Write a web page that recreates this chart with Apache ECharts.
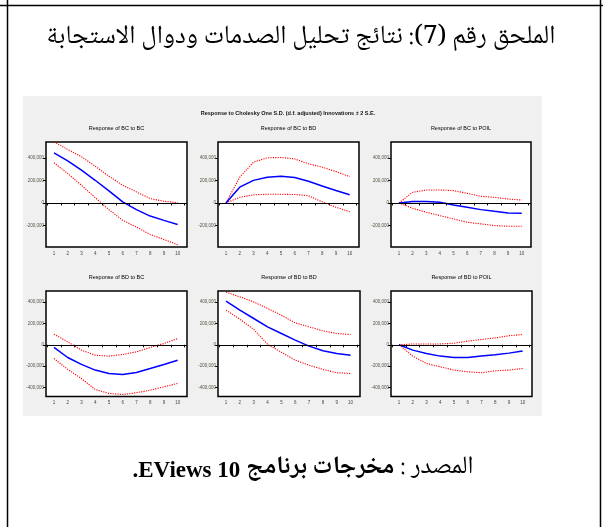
<!DOCTYPE html>
<html><head><meta charset="utf-8">
<script src="https://cdn.jsdelivr.net/npm/echarts@6/dist/echarts.min.js"></script>
<style>html,body{margin:0;padding:0;background:#fff}#chart{width:603px;height:527px}</style>
</head><body><div id="chart"></div>
<script>
// ---------- data ----------
const periods = [1, 2, 3, 4, 5, 6, 7, 8, 9, 10];
const xTickBounds = [0.5, 1.5, 2.5, 3.5, 4.5, 5.5, 6.5, 7.5, 8.5, 9.5, 10.5];
const topRowTicks = [-200000, 0, 200000, 400000];
const bottomRowTicks = [-400000, -200000, 0, 200000, 400000];

const pageTitle = 'الملحق رقم (7): نتائج تحليل الصدمات ودوال الاستجابة';
const sourceLabel = 'المصدر :';
const sourceArabic = 'مخرجات برنامج';
const sourceLatin = 'EViews 10.';
const mainTitle = 'Response to Cholesky One S.D. (d.f. adjusted) Innovations \u00b1 2 S.E.';
const panelTitles = [
  'Response of BC to BC', 'Response of BC to BD', 'Response of BC to POIL',
  'Response of BD to BC', 'Response of BD to BD', 'Response of BD to POIL'
];

const bcToBc      = [444000, 373000, 290000, 201000, 107000, 9000, -59000, -116000, -154000, -190000];
const bcToBcUpper = [542000, 474000, 409000, 326000, 237000, 157000, 98000, 39000, 15000, 3000];
const bcToBcLower = [356000, 261000, 157000, 47000, -59000, -154000, -213000, -279000, -323000, -370000];

const bcToBd      = [0, 140000, 200000, 228000, 237000, 225000, 192000, 150000, 110000, 72000];
const bcToBdUpper = [0, 228000, 361000, 400000, 403000, 390000, 347000, 317000, 278000, 234000];
const bcToBdLower = [0, 50000, 72000, 77000, 77000, 75000, 65000, 10000, -38000, -77000];

const bcToPoil      = [0, 12000, 12000, 6000, -18000, -38000, -59000, -74000, -88000, -91000];
const bcToPoilUpper = [0, 94000, 115000, 115000, 109000, 85000, 59000, 50000, 35000, 26000];
const bcToPoilLower = [0, -47000, -82000, -112000, -141000, -171000, -185000, -200000, -206000, -206000];

const bdToBc      = [-25000, -119000, -184000, -237000, -269000, -278000, -259000, -222000, -184000, -144000];
const bdToBcUpper = [100000, 28000, -50000, -97000, -106000, -91000, -66000, -25000, 12000, 59000];
const bdToBcLower = [-128000, -231000, -316000, -419000, -456000, -466000, -450000, -425000, -394000, -362000];

const bdToBd      = [409000, 325000, 247000, 169000, 106000, 44000, -12000, -56000, -81000, -97000];
const bdToBdUpper = [494000, 450000, 403000, 341000, 278000, 206000, 169000, 131000, 106000, 97000];
const bdToBdLower = [325000, 240000, 145000, 5000, -70000, -144000, -191000, -231000, -262000, -269000];

const bdToPoil      = [0, -50000, -81000, -106000, -119000, -119000, -106000, -94000, -78000, -59000];
const bdToPoilUpper = [0, 8000, 8000, 8000, 15000, 35000, 50000, 65000, 85000, 97000];
const bdToPoilLower = [0, -106000, -175000, -206000, -237000, -253000, -262000, -244000, -237000, -222000];

// ---------- layout ----------
const panels = [
  { resp: bcToBc, up: bcToBcUpper, lo: bcToBcLower },
  { resp: bcToBd, up: bcToBdUpper, lo: bcToBdLower },
  { resp: bcToPoil, up: bcToPoilUpper, lo: bcToPoilLower },
  { resp: bdToBc, up: bdToBcUpper, lo: bdToBcLower },
  { resp: bdToBd, up: bdToBdUpper, lo: bdToBdLower },
  { resp: bdToPoil, up: bdToPoilUpper, lo: bdToPoilLower }
];
const boxes = [
  { left: 46, top: 142, width: 141, height: 105 },
  { left: 218, top: 142, width: 141, height: 105 },
  { left: 391, top: 142, width: 140, height: 105 },
  { left: 46, top: 291, width: 141, height: 105.5 },
  { left: 218, top: 291, width: 142, height: 105.5 },
  { left: 391, top: 291, width: 141, height: 105.5 }
];
const rowRange = [{ min: -390000, max: 540000 }, { min: -485000, max: 505000 }];
const rowTicks = [topRowTicks, bottomRowTicks];

const latin = 'Liberation Sans, Arial, sans-serif';
const arabicFont = '"Noto Naskh Arabic", "Liberation Serif", "DejaVu Sans", serif';
const serifLatin = '"Liberation Serif", "Times New Roman", serif';
const RLE = '\u202B', PDF = '\u202C';

function measure(text, font) {
  const c = document.createElement('canvas').getContext('2d');
  c.font = font;
  return c.measureText(text).width;
}

const grid = [], xAxis = [], yAxis = [], series = [], graphic = [];

graphic.push({ type: 'rect', z: -5, silent: true, shape: { x: 23, y: 96, width: 519, height: 320 }, style: { fill: '#f0f0f0' } });
graphic.push({ type: 'line', z: 10, silent: true, shape: { x1: 0, y1: 5.5, x2: 603, y2: 5.5 }, style: { stroke: '#000', lineWidth: 1.5 } });
graphic.push({ type: 'line', z: 10, silent: true, shape: { x1: 7.5, y1: 0, x2: 7.5, y2: 527 }, style: { stroke: '#000', lineWidth: 1.5 } });
graphic.push({ type: 'line', z: 10, silent: true, shape: { x1: 600.5, y1: 0, x2: 600.5, y2: 527 }, style: { stroke: '#000', lineWidth: 1.5 } });

graphic.push({ type: 'text', silent: true, x: 301, y: 40, style: {
  text: RLE + pageTitle + PDF, font: '26px ' + arabicFont, fill: '#000', align: 'center', verticalAlign: 'middle' } });

// source line: pieces laid out right-to-left
const fLabel = '25px ' + arabicFont;
const fArabicBold = 'bold 25px ' + arabicFont;
const fLatinBold = 'bold 23px ' + serifLatin;
const gap = 6;
const wa = measure(sourceLabel, fLabel);
const wb = measure(sourceArabic, fArabicBold);
const wc = measure(RLE + sourceLatin + PDF, fLatinBold);
const total = wa + wb + wc + 2 * gap;
const srcRight = 303 + total / 2;
const srcY = 470;
graphic.push({ type: 'text', silent: true, x: srcRight, y: srcY, style: {
  text: RLE + sourceLabel + PDF, font: fLabel, fill: '#000', align: 'right', verticalAlign: 'middle' } });
graphic.push({ type: 'text', silent: true, x: srcRight - wa - gap, y: srcY, style: {
  text: RLE + sourceArabic + PDF, font: fArabicBold, fill: '#000', align: 'right', verticalAlign: 'middle' } });
graphic.push({ type: 'text', silent: true, x: srcRight - wa - wb - 2 * gap, y: srcY + 1, style: {
  text: RLE + sourceLatin + PDF, font: fLatinBold, fill: '#000', align: 'right', verticalAlign: 'middle' } });

graphic.push({ type: 'text', silent: true, x: 288, y: 113, style: {
  text: mainTitle, font: 'bold 5.5px ' + latin, fill: '#111', align: 'center', verticalAlign: 'middle' } });

panels.forEach((p, i) => {
  const b = boxes[i];
  const row = i < 3 ? 0 : 1;
  grid.push({ left: b.left, top: b.top, width: b.width, height: b.height, show: true,
    backgroundColor: '#fff', borderColor: '#000', borderWidth: 1.5, containLabel: false });
  graphic.push({ type: 'text', silent: true, x: b.left + b.width / 2, y: b.top - 14, style: {
    text: panelTitles[i], font: '5.5px ' + latin, fill: '#000', align: 'center', verticalAlign: 'middle' } });
  xAxis.push({ type: 'value', gridIndex: i, min: 0.42, max: 10.68,
    axisLine: { show: false }, splitLine: { show: false },
    axisTick: { show: true, customValues: xTickBounds, length: 2.5, lineStyle: { color: '#000', width: 1 } },
    axisLabel: { customValues: periods, fontSize: 4.5, margin: 4, color: '#444', fontFamily: latin } });
  yAxis.push({ type: 'value', gridIndex: i, min: rowRange[row].min, max: rowRange[row].max,
    axisLine: { show: false }, splitLine: { show: false },
    axisTick: { show: true, customValues: rowTicks[row], length: 3, lineStyle: { color: '#000', width: 1 } },
    axisLabel: { customValues: rowTicks[row], fontSize: 4.5, margin: 2, color: '#554', fontFamily: latin,
      formatter: v => Number(v).toLocaleString('en-US') } });
  const mk = arr => periods.map((x, k) => [x, arr[k]]);
  series.push({ type: 'line', xAxisIndex: i, yAxisIndex: i, data: mk(p.up), symbol: 'none', silent: true,
    lineStyle: { color: '#ff0000', width: 1.1, type: [1.2, 1.2] } });
  series.push({ type: 'line', xAxisIndex: i, yAxisIndex: i, data: mk(p.lo), symbol: 'none', silent: true,
    lineStyle: { color: '#ff0000', width: 1.1, type: [1.2, 1.2] } });
  series.push({ type: 'line', xAxisIndex: i, yAxisIndex: i, data: mk(p.resp), symbol: 'none', silent: true,
    lineStyle: { color: '#0000ff', width: 1.5 },
    markLine: { silent: true, symbol: 'none', label: { show: false }, animation: false,
      lineStyle: { color: '#000', width: 1.2, type: 'solid' }, data: [{ yAxis: 0 }] } });
});

const chart = echarts.init(document.getElementById('chart'), null, { renderer: 'canvas' });
chart.setOption({ animation: false, backgroundColor: '#fff', grid, xAxis, yAxis, series, graphic });
</script>
</body></html>
